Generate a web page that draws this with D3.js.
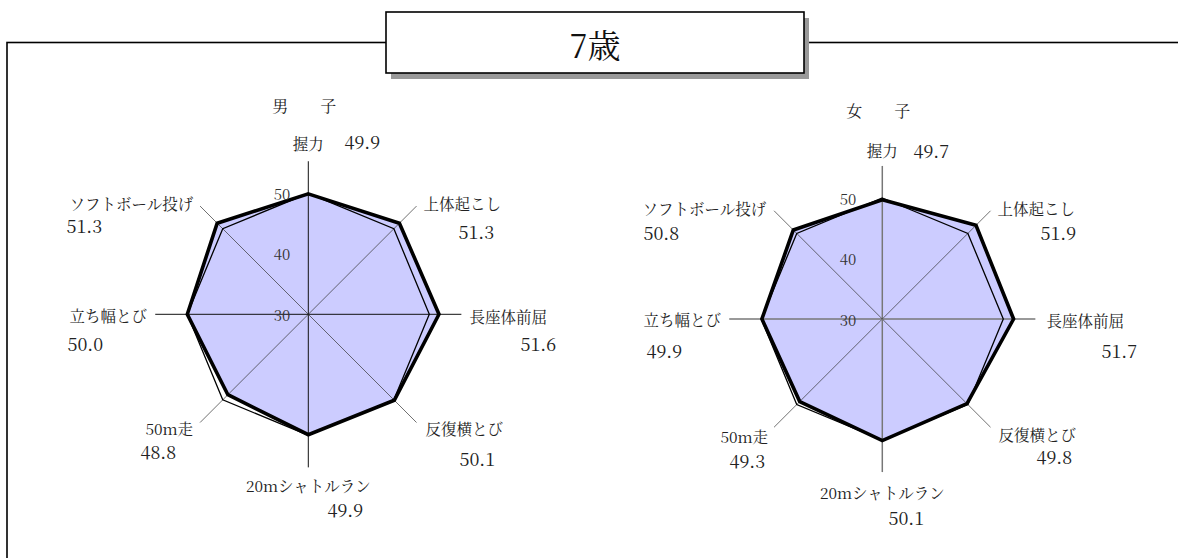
<!DOCTYPE html>
<html>
<head>
<meta charset="utf-8">
<script src="https://cdn.jsdelivr.net/npm/d3@7"></script>
<style>
  html, body { margin: 0; padding: 0; background: #fff; }
  svg { display: block; }
</style>
</head>
<body>
<svg id="chart" width="1178" height="558"></svg>
<script>
// ---- data ----
const title = "7歳";
const categories = ["握力", "上体起こし", "長座体前屈", "反復横とび", "20mシャトルラン", "50m走", "立ち幅とび", "ソフトボール投げ"];
const boysValues  = [49.9, 51.3, 51.6, 50.1, 49.9, 48.8, 50.0, 51.3];
const girlsValues = [49.7, 51.9, 51.7, 49.8, 50.1, 49.3, 49.9, 50.8];
const referenceValues = [50, 50, 50, 50, 50, 50, 50, 50];
const scaleTicks = [30, 40, 50];
const panelTitles = ["男　子", "女　子"];

// ---- layout ----
const FONT = "Noto Serif CJK JP";
const svg = d3.select("#chart");

// frame
svg.append("rect").attr("x", 7).attr("y", 42.5).attr("width", 1300).attr("height", 700)
  .attr("fill", "none").attr("stroke", "#000").attr("stroke-width", 1.6);

// title box with shadow
const tb = {x: 386, y: 12, w: 418, h: 61};
svg.append("rect").attr("x", tb.x + 5).attr("y", tb.y + 6).attr("width", tb.w).attr("height", tb.h)
  .attr("fill", "#999");
svg.append("rect").attr("x", tb.x).attr("y", tb.y).attr("width", tb.w).attr("height", tb.h)
  .attr("fill", "#fff").attr("stroke", "#000").attr("stroke-width", 1.6);
svg.append("text").attr("x", tb.x + tb.w / 2).attr("y", tb.y + tb.h / 2 + 1)
  .attr("text-anchor", "middle").attr("dominant-baseline", "central")
  .attr("font-family", FONT).attr("fill", "#111")
  .attr("font-size", 33).text(title);

const r = d3.scaleLinear().domain([30, 50]).range([0, 121]);
const axisMax = 55.3;
const n = categories.length;
const angle = i => -Math.PI / 2 + i * 2 * Math.PI / n;

// label offsets relative to the chart centre: [nameDx, nameDy, valueDx, valueDy]
const labelLayouts = [
  [[0,-171, 54,-173],[154,-111,168,-83],[200,2,230,29],[156,114,169,144],[0,171,37,195],[-139,114,-150,137],[-200,1,-223,29],[-177,-111,-224,-89]],
  [[0,-169, 49,-169],[154,-111,176,-87],[203,1,237,31],[155,115,172,137],[0,173,24,198],[-138,117,-135,141],[-200,0,-218,31],[-178,-111,-221,-87]]
];

const panels = [
  {cx: 308.3, cy: 314.3, values: boysValues, title: panelTitles[0], titleDy: -209, tickDx: -18, mainAxis: "#111", mainW: 1},
  {cx: 882.3, cy: 319, values: girlsValues, title: panelTitles[1], titleDy: -209, tickDx: -26, mainAxis: "#777", mainW: 1.5}
];

panels.forEach((p, pi) => {
  const g = svg.append("g").attr("transform", `translate(${p.cx},${p.cy})`);
  const pt = (v, i) => [r(v) * Math.cos(angle(i)), r(v) * Math.sin(angle(i))];
  const line = d3.line().curve(d3.curveLinearClosed);

  // data fill
  g.append("path").attr("d", line(p.values.map(pt))).attr("fill", "#ccccff").attr("stroke", "none");

  // axes
  categories.forEach((c, i) => {
    const [x, y] = pt(axisMax, i);
    const main = i % 2 === 0;
    g.append("line").attr("x1", 0).attr("y1", 0).attr("x2", x).attr("y2", y)
      .attr("stroke", main ? p.mainAxis : "#333").attr("stroke-width", main ? p.mainW : 0.7);
  });

  // reference octagon
  g.append("path").attr("d", line(referenceValues.map(pt))).attr("fill", "none")
    .attr("stroke", "#000").attr("stroke-width", 1.3);

  // data outline
  g.append("path").attr("d", line(p.values.map(pt))).attr("fill", "none")
    .attr("stroke", "#000").attr("stroke-width", 3.6).attr("stroke-linejoin", "miter");

  // scale tick labels
  scaleTicks.forEach(t => {
    g.append("text").attr("x", p.tickDx).attr("y", -r(t)).attr("text-anchor", "end")
      .attr("dominant-baseline", "central").attr("font-family", FONT)
      .attr("font-size", 15).attr("fill", "#333").text(t);
  });

  // panel title
  g.append("text").attr("x", 0).attr("y", p.titleDy).attr("text-anchor", "middle")
    .attr("dominant-baseline", "central").attr("font-family", FONT).attr("fill", "#222")
    .attr("letter-spacing", 8).attr("font-size", 16).text(p.title);

  // category & value labels
  categories.forEach((c, i) => {
    const L = labelLayouts[pi][i];
    g.append("text").attr("x", L[0]).attr("y", L[1]).attr("text-anchor", "middle")
      .attr("dominant-baseline", "central").attr("font-family", FONT).attr("fill", "#222")
      .attr("font-size", 15.5).text(c);
    g.append("text").attr("x", L[2]).attr("y", L[3]).attr("text-anchor", "middle")
      .attr("dominant-baseline", "central").attr("font-family", FONT).attr("fill", "#222")
      .attr("font-size", 18).text(d3.format(".1f")(p.values[i]));
  });
});
</script>
</body>
</html>
